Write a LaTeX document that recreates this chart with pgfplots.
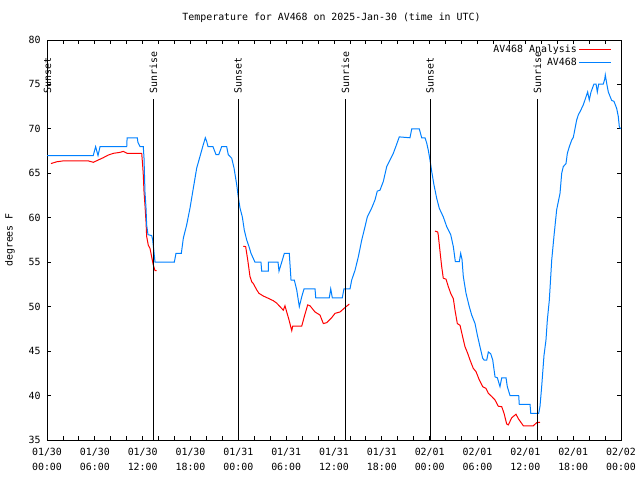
\documentclass[border=0pt]{standalone}
\usepackage{fontspec}
\setmainfont{DejaVu Sans Mono}
\usepackage{pgfplots}
\pgfplotsset{compat=1.18}
\definecolor{avblue}{RGB}{0,128,255}
\begin{document}
\fontsize{9.9bp}{12bp}\selectfont
\begin{tikzpicture}
\useasboundingbox (-47bp,-40bp) rectangle (593bp,440bp);
\begin{axis}[
  at={(0,0)}, anchor=south west, scale only axis,
  width=574bp, height=400bp,
  xmin=0, xmax=72, ymin=35, ymax=80,
  clip=false,
  axis line style={black, line width=0.8bp},
  every tick/.style={black, line width=0.8bp},
  tick align=inside, xtick pos=both, ytick pos=both,
  major tick length=4bp, minor tick length=4bp,
  xtick={0,6,...,72},
  minor x tick num=2,
  xticklabels={{01/30\\00:00},{01/30\\06:00},{01/30\\12:00},{01/30\\18:00},{01/31\\00:00},{01/31\\06:00},{01/31\\12:00},{01/31\\18:00},{02/01\\00:00},{02/01\\06:00},{02/01\\12:00},{02/01\\18:00},{02/02\\00:00}},
  xticklabel style={align=center, font=\fontsize{9.9bp}{14.6bp}\selectfont, yshift=-5bp},
  ytick={35,40,...,80},
  yticklabel style={font=\fontsize{9.9bp}{12bp}\selectfont, xshift=-3bp},
  /pgf/number format/assume math mode=true,
  legend style={at={(1,1)}, anchor=north east, xshift=-9bp, yshift=-3bp, draw=none, fill=none,
    font=\fontsize{9.9bp}{12bp}\selectfont, row sep=0pt, inner sep=0pt},
  legend cell align=right,
  legend plot pos=right,
  legend image code/.code={\path (0bp,0bp) -- (3bp,0bp); \draw[#1] (3bp,0bp) -- (32bp,0bp);},
]
% red segment 1
\addplot[red, line width=1bp] coordinates {
(0.5,66.1) (1.22,66.3) (2.04,66.4) (5.18,66.4) (5.81,66.24) (6.43,66.5) (7.06,66.76) (7.69,67.06)
(8.32,67.25) (9.16,67.36) (9.57,67.47) (10.07,67.25) (11.88,67.25) (12.0,65.9) (12.08,64.8)
(12.17,62.9) (12.29,61.4) (12.42,59.56) (12.5,57.9) (12.71,56.9) (12.92,56.56) (13.13,55.6)
(13.33,54.7) (13.55,54.05) (13.76,54.05)
};
\addlegendentry{AV468 Analysis}
% blue
\addplot[avblue, line width=1bp] coordinates {
(0,67) (5.77,67) (5.8,67) (6.1,68) (6.4,67) (6.65,68) (10.0,68) (10.05,69) (11.33,69) (11.4,68.5)
(11.67,68) (12.08,68) (12.17,66.7) (12.29,62.9) (12.42,61.1) (12.5,59.2) (12.67,58.1) (13.13,58)
(13.26,57.5) (13.55,55) (15.97,55) (16.18,56) (16.85,56) (17.1,57.7) (17.52,59.2) (17.94,61.1)
(18.35,63.3) (18.78,65.6) (19.19,66.9) (19.53,68) (19.86,69) (20.03,68.6) (20.2,68) (20.82,68)
(21.2,67.1) (21.54,67.1) (21.91,68) (22.54,68) (22.74,67.1) (23.17,66.7) (23.46,65.6) (23.8,63.7)
(24.0,62.3) (24.21,61.1) (24.5,60.1) (24.75,58.6) (25.05,57.5) (25.34,56.75) (25.59,56) (26.09,55)
(26.84,55) (26.93,54) (27.76,54) (27.78,55) (28.98,55) (29.1,54) (29.44,55) (29.77,56) (30.39,56)
(30.61,53) (31.02,53) (31.32,51.9) (31.65,50) (31.95,51.1) (32.24,52) (33.62,52) (33.71,51)
(35.41,51) (35.59,52) (35.79,51) (37.04,51) (37.25,52) (38.01,52) (38.22,53) (38.64,54.1)
(39.05,55.6) (39.48,57.5) (39.89,59) (40.18,60.1) (40.73,61.1) (41.14,62) (41.43,63) (41.77,63.1)
(42.19,64.1) (42.61,65.75) (43.03,66.5) (43.44,67.25) (43.78,68.07) (44.19,69.1) (45.53,69)
(45.75,70) (46.7,70) (47.0,69) (47.42,69) (47.63,68.4) (47.83,67.6) (48.04,66.5) (48.26,65.2)
(48.54,63.7) (48.88,62.2) (49.21,61.06) (49.71,60.1) (50.14,59) (50.64,58.1) (50.97,56.75)
(51.22,55.06) (51.72,55.06) (51.89,56) (52.06,55.3) (52.22,53.4) (52.56,51.5) (52.97,50)
(53.27,49.06) (53.69,48.1) (53.98,46.8) (54.31,45.5) (54.65,44.2) (54.82,44) (55.16,44)
(55.36,44.9) (55.66,44.7) (55.91,44) (56.2,42.1) (56.49,42) (56.82,41) (57.04,42) (57.58,42)
(57.74,41) (58.08,40) (59.17,40) (59.24,39) (60.59,39) (60.68,38) (61.68,38) (61.84,38.8)
(62.05,41) (62.34,44.5) (62.59,46.25) (62.76,48.5) (63.01,50.75) (63.31,55.25) (63.6,58)
(63.93,60.9) (64.35,62.75) (64.56,65) (64.76,65.75) (65.1,66.1) (65.27,67.25) (65.52,68)
(65.82,68.75) (66.02,69.05) (66.44,71) (66.64,71.56) (66.95,72.1) (67.27,72.7) (67.61,73.6)
(67.82,74.15) (68.02,73.25) (68.24,74.15) (68.61,75.05) (68.87,75.05) (69.03,74.15) (69.2,75.05)
(69.78,75.05) (69.96,75.6) (70.03,76.06) (70.21,75.1) (70.41,74.15) (70.83,73.2) (71.12,73.1)
(71.46,72.3) (71.66,71.4) (71.79,70.25) (71.96,70)
};
\addlegendentry{AV468}
% red segment 2
\addplot[red, line width=1bp, forget plot] coordinates {
(24.62,56.8) (24.92,56.75) (25.18,55.25) (25.46,53.4) (25.68,52.8) (25.88,52.6) (26.3,51.9)
(26.59,51.5) (27.13,51.2) (27.76,50.94) (28.39,50.67) (28.81,50.4) (29.44,49.8) (29.64,49.6)
(29.85,50.1) (30.07,49.4) (30.36,48.5) (30.7,47.3) (30.82,47.8) (31.95,47.8) (32.28,48.9)
(32.7,50.2) (32.99,50.1) (33.62,49.4) (34.24,49.06) (34.66,48.1) (35.09,48.2) (35.71,48.76)
(36.13,49.25) (36.75,49.4) (37.38,49.9) (37.79,50.2) (37.92,50.3)
};
% red segment 3
\addplot[red, line width=1bp, forget plot] coordinates {
(48.67,58.5) (49.01,58.4) (49.08,58.06) (49.3,56.2) (49.51,54.5) (49.71,53.2) (50.05,53.1)
(50.34,52.25) (50.64,51.5) (50.97,50.9) (51.18,49.6) (51.47,48.1) (51.81,47.9) (52.14,46.6)
(52.43,45.5) (52.77,44.75) (53.06,44) (53.47,43.06) (53.81,42.7) (54.23,41.75) (54.65,41)
(55.07,40.8) (55.36,40.25) (55.78,39.9) (56.2,39.5) (56.61,38.8) (57.04,38.75) (57.33,38)
(57.66,36.8) (57.87,36.7) (58.29,37.5) (58.83,37.9) (59.12,37.4) (59.75,36.6) (61.0,36.6)
(61.43,36.95) (61.84,37)
};
% sunrise / sunset lines
\addplot[black, line width=0.8bp, forget plot] coordinates {(13.36,35) (13.36,73.4)};
\addplot[black, line width=0.8bp, forget plot] coordinates {(23.96,35) (23.96,73.4)};
\addplot[black, line width=0.8bp, forget plot] coordinates {(37.44,35) (37.44,73.4)};
\addplot[black, line width=0.8bp, forget plot] coordinates {(48.04,35) (48.04,73.4)};
\addplot[black, line width=0.8bp, forget plot] coordinates {(61.53,35) (61.53,73.4)};
\node[rotate=90, anchor=west, inner sep=0pt] at (axis cs:0.05,74.0) {Sunset};
\node[rotate=90, anchor=west, inner sep=0pt] at (axis cs:13.36,74.0) {Sunrise};
\node[rotate=90, anchor=west, inner sep=0pt] at (axis cs:23.96,74.0) {Sunset};
\node[rotate=90, anchor=west, inner sep=0pt] at (axis cs:37.44,74.0) {Sunrise};
\node[rotate=90, anchor=west, inner sep=0pt] at (axis cs:48.04,74.0) {Sunset};
\node[rotate=90, anchor=west, inner sep=0pt] at (axis cs:61.53,74.0) {Sunrise};
\end{axis}
\node at (284.5bp,422bp) {Temperature for AV468 on 2025-Jan-30 (time in UTC)};
\node[rotate=90] at (-37bp,200bp) {degrees F};
\end{tikzpicture}
\end{document}
